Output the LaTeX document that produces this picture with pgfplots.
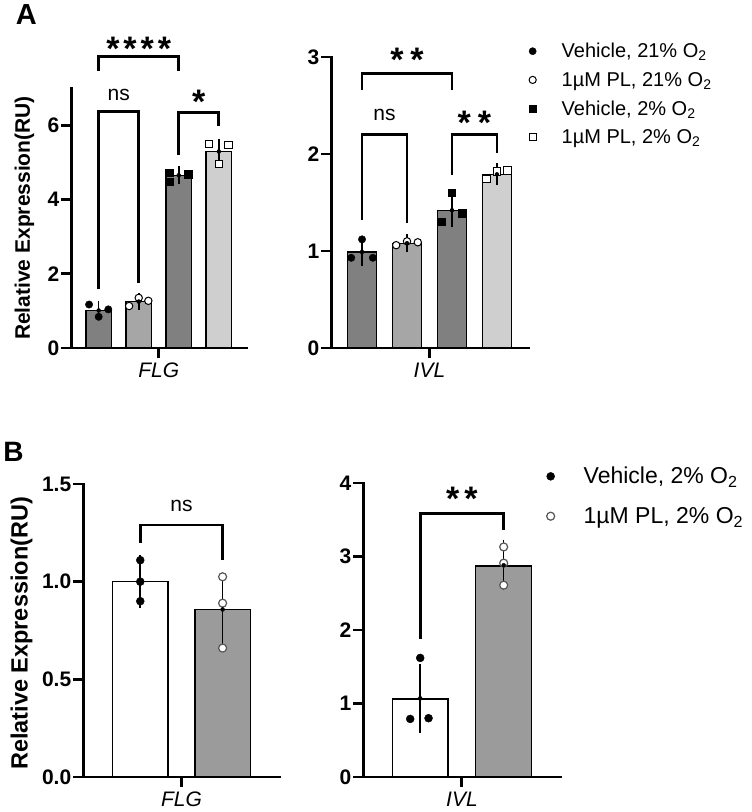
\documentclass[border=0pt]{standalone}
\usepackage{pgfplots}
\pgfplotsset{compat=1.18}
\usepackage{fontspec}
\setmainfont{Liberation Sans}
\definecolor{gdark}{RGB}{128,128,128}
\definecolor{gmid}{RGB}{166,166,166}
\definecolor{glight}{RGB}{207,207,207}
\definecolor{gB}{RGB}{155,155,155}
\definecolor{ogray}{RGB}{85,85,85}
\newcommand{\fs}[1]{\fontsize{#1}{#1}\selectfont}
\tikzset{brk/.style={line width=2.9pt, line join=miter}}
\pgfplotsset{
  prism/.style={
    scale only axis, clip=false,
    axis x line*=bottom, axis y line*=left,
    axis line style={line width=2.9pt, line cap=rect},
    tick align=outside,
    major tick length=10pt,
    major tick style={line width=2.9pt, black},
    ymin=0,
    /pgf/number format/assume math mode=true,
    yticklabel style={font=\bfseries\fs{21}, inner sep=2pt},
    xticklabel style={font=\itshape\fs{21}, inner sep=2pt, yshift=-3pt},
    ylabel style={font=\bfseries\fs{21}},
    legend cell align=left,
  },
  barst/.style={ybar, bar shift=0pt, draw=black, line width=1.4pt, forget plot},
  errst/.style={forget plot, only marks, mark=none, error bars/.cd, y dir=both, y explicit,
     error bar style={line width=1.6pt, black},
     error mark options={line width=1.6pt, black, mark size=#1}},
  fcirc/.style={only marks, mark=*, mark size=3.7pt, black},
  ocirc/.style={only marks, mark=*, mark size=3.7pt, mark options={fill=white, draw=black, line width=1pt}},
  fsq/.style={only marks, mark=square*, mark size=3.7pt, black},
  osq/.style={only marks, mark=square*, mark size=3.7pt, mark options={fill=white, draw=black, line width=1pt}},
}
\begin{document}
\begin{tikzpicture}
\path (0pt,0pt) rectangle (750pt,812pt);
\node[font=\bfseries\fs{29}] at (25pt,797pt) {A};
\node[font=\bfseries\fs{28}] at (12pt,360pt) {B};

% ---------------- A left: FLG ----------------
\begin{scope}[shift={(70pt,464pt)}]
\begin{axis}[prism, at={(0pt,0pt)}, anchor=south west, width=175pt, height=260pt,
  xmin=-0.68, xmax=3.69, ymax=7, ytick={0,2,4,6}, xtick={1.5}, xticklabels={FLG},
  ylabel={Relative Expression(RU)},
  ylabel style={at={(axis description cs:-0.269,0.5)}, anchor=center}]
\addplot[barst, bar width=0.64, fill=gdark] coordinates {(0,1.01)};
\addplot[barst, bar width=0.64, fill=gmid] coordinates {(1,1.25)};
\addplot[barst, bar width=0.64, fill=gdark] coordinates {(2,4.65)};
\addplot[barst, bar width=0.64, fill=glight] coordinates {(3,5.29)};
\addplot[fcirc, forget plot] coordinates {(-0.24,1.17) (0,0.84) (0.24,1.04)};
\addplot[ocirc, forget plot] coordinates {(0.76,1.13) (1,1.35) (1.24,1.27)};
\addplot[fsq, forget plot] coordinates {(1.76,4.72) (1.78,4.48) (2.24,4.68)};
\addplot[osq, forget plot] coordinates {(2.76,5.50) (3,4.96) (3.24,5.47)};
\addplot[errst=6pt] coordinates {(0,1.01) +- (0,0.1) (1,1.25) +- (0,0.06) (2,4.65) +- (0,0.08) (3,5.29) +- (0,0.18)};
\draw[brk] (axis cs:0,7.46) -- (axis cs:0,7.86) -- (axis cs:2,7.86) -- (axis cs:2,7.46);
\draw[brk] (axis cs:0,1.6) -- (axis cs:0,6.37) -- (axis cs:1,6.37) -- (axis cs:1,1.75);
\draw[brk] (axis cs:2,5.2) -- (axis cs:2,6.35) -- (axis cs:3,6.35) -- (axis cs:3,5.97);
\node[font=\bfseries\fs{34}] at (axis cs:1,8.05) {*\hspace{4pt}*\hspace{4pt}*\hspace{4pt}*};
\node[font=\fs{21}] at (axis cs:0.5,6.8) {ns};
\node[font=\bfseries\fs{34}] at (axis cs:2.5,6.62) {*};
\end{axis}
\end{scope}

% ---------------- A right: IVL ----------------
\begin{scope}[shift={(330pt,464pt)}]
\begin{axis}[prism, at={(0pt,0pt)}, anchor=south west, width=197pt, height=291pt,
  xmin=-0.68, xmax=3.70, ymax=3, ytick={0,1,2,3}, xtick={1.5}, xticklabels={IVL},
  legend style={at={(axis description cs:0.99,1.055)}, anchor=north west, draw=none, fill=none,
     font=\fs{20}, inner sep=0pt, row sep=9pt, nodes={inner sep=2pt}},
  legend image code/.code={\draw[#1, mark size=3.6pt] plot coordinates {(6pt,0pt)}; \path[draw=none, fill=none] (0pt,-5pt) rectangle (33pt,5pt);}]
\addplot[barst, bar width=0.64, fill=gdark] coordinates {(0,0.99)};
\addplot[barst, bar width=0.64, fill=gmid] coordinates {(1,1.08)};
\addplot[barst, bar width=0.64, fill=gdark] coordinates {(2,1.42)};
\addplot[barst, bar width=0.64, fill=glight] coordinates {(3,1.79)};
\addplot[fcirc] coordinates {(-0.24,0.93) (0,1.12) (0.24,0.93)};
\addlegendentry{Vehicle, 21\% O\textsubscript{2}}
\addplot[ocirc] coordinates {(0.76,1.06) (1,1.10) (1.24,1.09)};
\addlegendentry{1µM PL, 21\% O\textsubscript{2}}
\addplot[fsq] coordinates {(1.77,1.30) (2,1.60) (2.23,1.39)};
\addlegendentry{Vehicle, 2\% O\textsubscript{2}}
\addplot[osq] coordinates {(2.77,1.74) (3,1.82) (3.23,1.83)};
\addlegendentry{1µM PL, 2\% O\textsubscript{2}}
\addplot[errst=8pt] coordinates {(0,0.99) +- (0,0.065) (1,1.08) +- (0,0.012) (2,1.42) +- (0,0.095) (3,1.79) +- (0,0.03)};
\draw[brk] (axis cs:0,2.66) -- (axis cs:0,2.83) -- (axis cs:2,2.83) -- (axis cs:2,2.66);
\draw[brk] (axis cs:0,1.32) -- (axis cs:0,2.2) -- (axis cs:1,2.2) -- (axis cs:1,1.29);
\draw[brk] (axis cs:2,1.78) -- (axis cs:2,2.2) -- (axis cs:3,2.2) -- (axis cs:3,2.01);
\node[font=\bfseries\fs{34}] at (axis cs:1,2.97) {*\hspace{7pt}*};
\node[font=\fs{21}] at (axis cs:0.5,2.4) {ns};
\node[font=\bfseries\fs{34}] at (axis cs:2.5,2.32) {*\hspace{7pt}*};
\end{axis}
\end{scope}

% ---------------- B left: FLG ----------------
\begin{scope}[shift={(82pt,35pt)}]
\begin{axis}[prism, at={(0pt,0pt)}, anchor=south west, width=196pt, height=293pt,
  xmin=-0.69, xmax=1.69, ymax=1.5, ytick={0,0.5,1.0,1.5}, xtick={0.5}, xticklabels={FLG},
  yticklabel style={/pgf/number format/.cd, fixed, fixed zerofill, precision=1},
  ylabel={Relative Expression(RU)},
  ylabel style={font=\bfseries\fs{23.5}, at={(axis description cs:-0.316,0.49)}, anchor=center}]
\addplot[barst, bar width=0.67, fill=white] coordinates {(0,1.0)};
\addplot[barst, bar width=0.67, fill=gB] coordinates {(1,0.858)};
\addplot[only marks, mark=*, mark size=4pt, black, forget plot] coordinates {(0,1.11) (0,1.0) (0,0.90)};
\addplot[only marks, mark=*, mark size=4pt, mark options={fill=white, draw=ogray, line width=1.2pt}, forget plot] coordinates {(1,1.025) (1,0.89) (1,0.66)};
\addplot[errst=14pt] coordinates {(0,1.0) +- (0,0.063) (1,0.858) +- (0,0.107)};
\draw[brk] (axis cs:0,1.2) -- (axis cs:0,1.29) -- (axis cs:1,1.29) -- (axis cs:1,1.11);
\node[font=\fs{21}] at (axis cs:0.5,1.39) {ns};
\end{axis}
\end{scope}

% ---------------- B right: IVL ----------------
\begin{scope}[shift={(362pt,35pt)}]
\begin{axis}[prism, at={(0pt,0pt)}, anchor=south west, width=197pt, height=294pt,
  xmin=-0.68, xmax=1.68, ymax=4, ytick={0,1,2,3,4}, xtick={0.5}, xticklabels={IVL},
  legend style={at={(axis description cs:0.924,1.061)}, anchor=north west, draw=none, fill=none,
     font=\fs{23}, inner sep=0pt, row sep=18pt, nodes={inner sep=2pt}},
  legend image code/.code={\draw[#1, mark size=4pt] plot coordinates {(5pt,0pt)}; \path[draw=none, fill=none] (0pt,-5pt) rectangle (36pt,5pt);}]
\addplot[barst, bar width=0.67, fill=white] coordinates {(0,1.06)};
\addplot[barst, bar width=0.67, fill=gB] coordinates {(1,2.87)};
\addplot[only marks, mark=*, mark size=4pt, black] coordinates {(0,1.62) (-0.12,0.79) (0.1,0.80)};
\addlegendentry{Vehicle, 2\% O\textsubscript{2}}
\addplot[only marks, mark=*, mark size=4pt, mark options={fill=white, draw=ogray, line width=1.2pt}] coordinates {(1,3.13) (1,2.91) (1,2.61)};
\addlegendentry{1µM PL, 2\% O\textsubscript{2}}
\addplot[errst=14pt] coordinates {(0,1.07) +- (0,0.28) (1,2.88) +- (0,0.15)};
\draw[brk] (axis cs:0,1.88) -- (axis cs:0,3.59) -- (axis cs:1,3.59) -- (axis cs:1,3.36);
\node[font=\bfseries\fs{34}] at (axis cs:0.5,3.79) {*\hspace{5pt}*};
\end{axis}
\end{scope}
\end{tikzpicture}
\end{document}
